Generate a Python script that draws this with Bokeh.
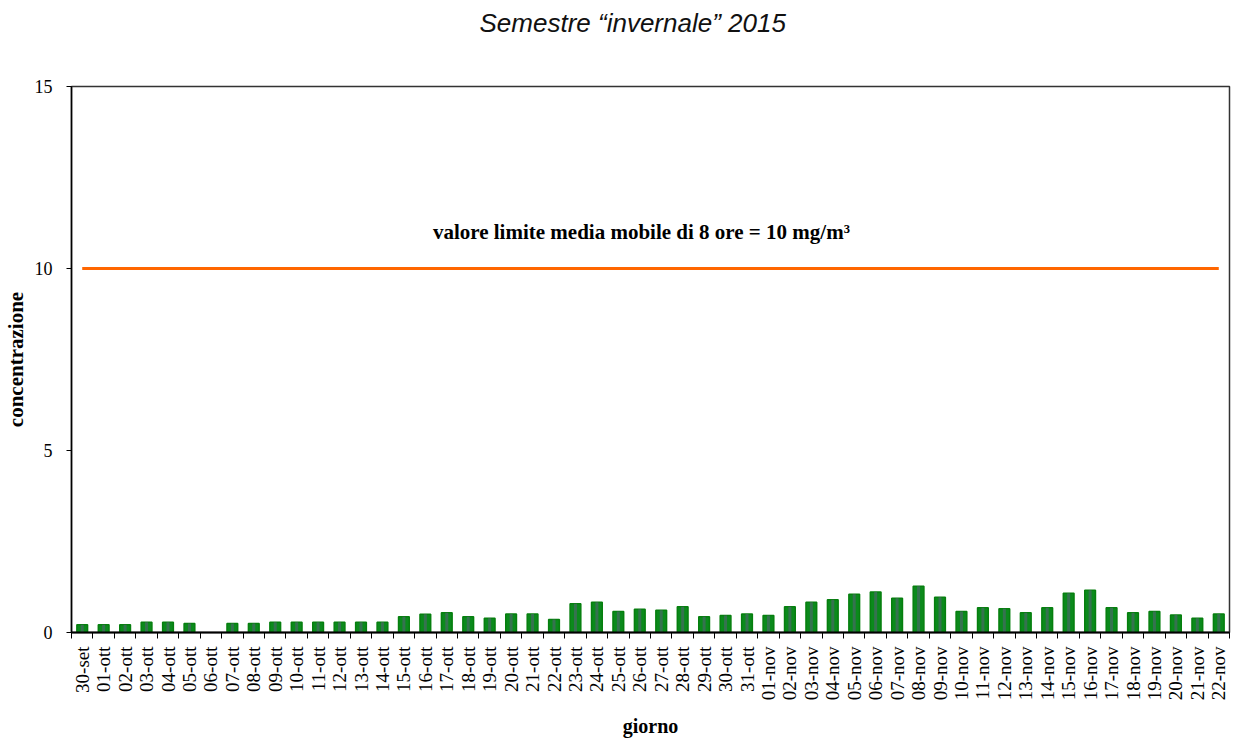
import math
from bokeh.plotting import figure
from bokeh.models import FixedTicker, Label, ColumnDataSource, Title
from bokeh.embed import file_html
from bokeh.resources import INLINE

# ---------------- data ----------------
days = ["30-set",
        "01-ott", "02-ott", "03-ott", "04-ott", "05-ott", "06-ott", "07-ott", "08-ott", "09-ott", "10-ott",
        "11-ott", "12-ott", "13-ott", "14-ott", "15-ott", "16-ott", "17-ott", "18-ott", "19-ott", "20-ott",
        "21-ott", "22-ott", "23-ott", "24-ott", "25-ott", "26-ott", "27-ott", "28-ott", "29-ott", "30-ott",
        "31-ott",
        "01-nov", "02-nov", "03-nov", "04-nov", "05-nov", "06-nov", "07-nov", "08-nov", "09-nov", "10-nov",
        "11-nov", "12-nov", "13-nov", "14-nov", "15-nov", "16-nov", "17-nov", "18-nov", "19-nov", "20-nov",
        "21-nov", "22-nov"]
concentration = [0.21,
                 0.21, 0.21, 0.28, 0.28, 0.25, float("nan"), 0.25, 0.25, 0.28, 0.28,
                 0.28, 0.28, 0.28, 0.28, 0.43, 0.50, 0.54, 0.43, 0.39, 0.51,
                 0.51, 0.36, 0.79, 0.83, 0.58, 0.64, 0.61, 0.71, 0.43, 0.47,
                 0.51,
                 0.47, 0.71, 0.83, 0.90, 1.05, 1.11, 0.94, 1.27, 0.97, 0.58,
                 0.68, 0.65, 0.54, 0.68, 1.08, 1.16, 0.68, 0.54, 0.58, 0.48,
                 0.39, 0.51]
limit_value = 10
limit_text = "valore limite  media mobile di 8 ore = 10 mg/m\u00b3"
y_ticks = [0, 5, 10, 15]
title_text = "Semestre \u201cinvernale\u201d 2015"

# ---------------- figure ----------------
n = len(days)
xs = list(range(1, n + 1))
valid = [(x, v) for x, v in zip(xs, concentration) if not math.isnan(v)]
src = ColumnDataSource(data=dict(x=[a for a, _ in valid], top=[b for _, b in valid]))

p = figure(width=1235, height=740, output_backend="svg", toolbar_location=None,
           x_range=(0.5, n + 0.5), y_range=(0, 15),
           min_border_left=71, min_border_right=6, min_border_top=85, min_border_bottom=107)
p.background_fill_color = "white"
p.border_fill_color = "white"
p.outline_line_color = "#333333"
p.outline_line_width = 1.5
p.xgrid.visible = False
p.ygrid.visible = False

# real title (outermost) and an empty spacer panel between it and the frame
p.title.text = title_text
p.title.align = "left"
p.title.offset = 408
p.title.standoff = 10
p.title.text_font = "Liberation Sans"
p.title.text_font_style = "italic"
p.title.text_font_size = "26px"
p.title.text_color = "#111111"
p.add_layout(Title(text="\u00a0", text_font_size="26px", standoff=12), "above")

# limit line
p.line(x=[xs[0], xs[-1]], y=[limit_value, limit_value], line_color="#ff6600", line_width=3)
p.add_layout(Label(x=27.2, y=11.0, text=limit_text, text_align="center", text_baseline="alphabetic",
                   text_font="Liberation Serif", text_font_style="bold", text_font_size="21px",
                   text_color="black"))

# bars
p.vbar(x="x", top="top", bottom=0, width=0.5, source=src,
       fill_color="#0b8a1c", line_color="#067f0e", line_width=1.5)
p.vbar(x="x", top="top", bottom=0, width=0.14, source=src,
       fill_color="#3d6f58", line_color=None, fill_alpha=0.85)

# x axis
xa = p.xaxis[0]
xa.ticker = FixedTicker(ticks=xs, minor_ticks=[x - 0.5 for x in xs] + [n + 0.5])
xa.major_label_overrides = {x: d for x, d in zip(xs, days)}
xa.major_label_orientation = math.pi / 2
xa.major_tick_out = 0
xa.major_tick_in = 0
xa.minor_tick_out = 6
xa.minor_tick_in = 0
xa.minor_tick_line_color = "black"
xa.minor_tick_line_width = 1
xa.axis_line_color = "black"
xa.axis_line_width = 2
xa.major_label_standoff = 8
xa.major_label_text_font = "Liberation Serif"
xa.major_label_text_font_size = "19px"
xa.major_label_text_color = "black"
xa.axis_label = "giorno"
xa.axis_label_text_font = "Liberation Serif"
xa.axis_label_text_font_style = "bold"
xa.axis_label_text_font_size = "20px"
xa.axis_label_text_color = "black"
xa.axis_label_standoff = 12

# y axis
ya = p.yaxis[0]
ya.ticker = FixedTicker(ticks=y_ticks, minor_ticks=[])
ya.major_tick_out = 5
ya.major_tick_in = 0
ya.major_tick_line_color = "black"
ya.axis_line_color = "black"
ya.axis_line_width = 1.5
ya.major_label_standoff = 14
ya.major_label_text_font = "Liberation Serif"
ya.major_label_text_font_size = "18px"
ya.major_label_text_color = "black"
ya.axis_label = "concentrazione"
ya.axis_label_text_font = "Liberation Serif"
ya.axis_label_text_font_style = "bold"
ya.axis_label_text_font_size = "21px"
ya.axis_label_text_color = "black"
ya.axis_label_standoff = 4

open("out.html", "w").write(file_html(p, INLINE))
